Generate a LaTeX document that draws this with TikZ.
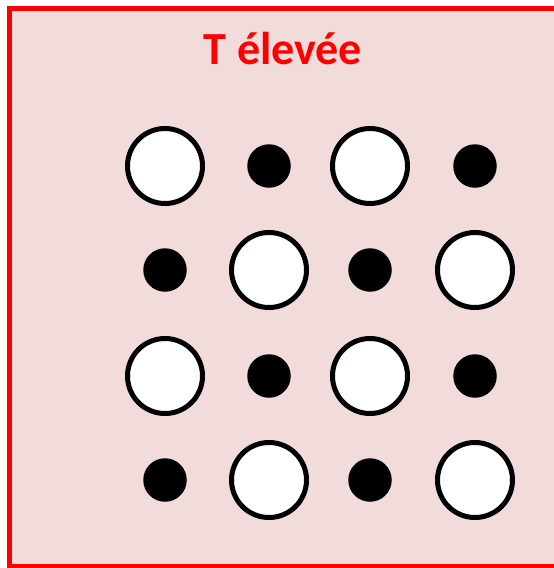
\documentclass[tikz,border=0pt]{standalone}
\usepackage{fontspec}
\setmainfont{Carlito}
\usetikzlibrary{positioning}
\definecolor{panelpink}{RGB}{242,220,219}
\definecolor{titlered}{RGB}{255,0,0}

\begin{document}
\begin{tikzpicture}[x=1pt,y=-1pt,
    bigion/.style={circle,draw=black,line width=5pt,fill=white,minimum size=75pt,inner sep=0pt},
    smallion/.style={circle,fill=black,minimum size=43.5pt,inner sep=0pt}]
    \useasboundingbox (0,0) rectangle (554,568);
    % panel
    \fill[white] (0,0) rectangle (554,568);
    \fill[panelpink] (9.5,8.5) rectangle (590,566);
    \draw[titlered,line width=5pt] (9.5,8.5) rectangle (590,566);
    \node[titlered,anchor=base,inner sep=0pt,font=\bfseries\fontsize{46}{46}\selectfont] (title) at (283,64) {T élevée};
    % lattice
    \foreach \r/\y in {0/166,1/270,2/376,3/480}
      \foreach \c/\x in {0/165,1/269,2/370,3/475} {
        \pgfmathtruncatemacro{\odd}{mod(\r+\c,2)}
        \ifnum\odd=0
          \node[bigion] (ion-\r-\c) at (\x,\y) {};
        \else
          \node[smallion] (ion-\r-\c) at (\x,\y) {};
        \fi
      }
\end{tikzpicture}
\end{document}
